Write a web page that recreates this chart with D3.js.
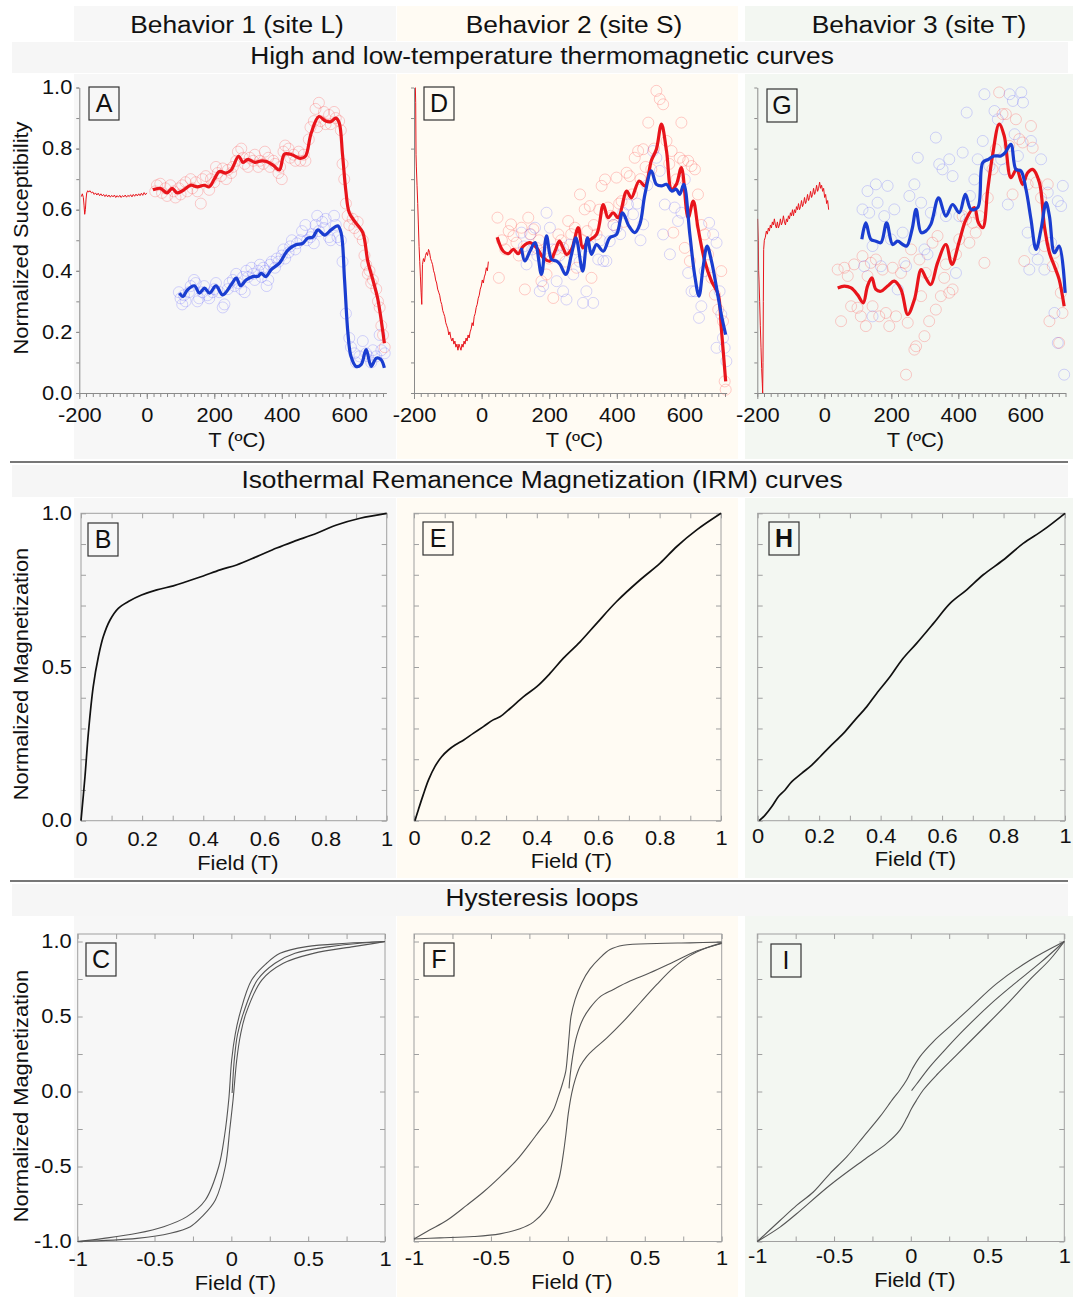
<!DOCTYPE html>
<html>
<head>
<meta charset="utf-8">
<script src="https://cdn.jsdelivr.net/npm/d3@7"></script>
<style>
  body { margin: 0; background: #fff; }
  svg { display: block; font-family: "Liberation Sans", Arial, sans-serif; }
</style>
</head>
<body>
<svg id="fig" width="1073" height="1297"></svg>
<script>
// ---------------- text ----------------
const columnTitles = ["Behavior 1 (site L)", "Behavior 2 (site S)", "Behavior 3 (site T)"];
const sectionTitles = [
  "High and low-temperature thermomagnetic curves",
  "Isothermal Remanence Magnetization (IRM) curves",
  "Hysteresis loops"
];
const thermoTicks = [-200, 0, 200, 400, 600];
const suscTicks = [0, 0.2, 0.4, 0.6, 0.8, 1.0];
const irmFieldTicks = [0, 0.2, 0.4, 0.6, 0.8, 1];
const irmMagTicks = [0, 0.5, 1.0];
const loopFieldTicks = [-1, -0.5, 0, 0.5, 1];
const loopMagTicks = [-1, -0.5, 0, 0.5, 1];

// ---------------- thermomagnetic data: [T (ºC), normalized susceptibility] ----------------
// site L
const lowA = [[-194,0.643],[-191,0.652],[-188,0.640],[-186,0.615],[-184,0.585],[-182,0.600],[-180,0.635],[-178,0.655],[-175,0.662],[-172,0.658],[-168,0.662],[-164,0.655],[-160,0.658],[-156,0.650],[-152,0.655],[-148,0.648],[-144,0.654],[-140,0.646],[-136,0.652],[-132,0.645],[-128,0.650],[-124,0.643],[-120,0.649],[-116,0.642],[-112,0.648],[-108,0.641],[-104,0.647],[-100,0.642],[-96,0.648],[-92,0.640],[-88,0.646],[-84,0.641],[-80,0.647],[-76,0.640],[-72,0.646],[-68,0.642],[-64,0.648],[-60,0.641],[-56,0.647],[-52,0.643],[-48,0.649],[-44,0.642],[-40,0.650],[-36,0.644],[-32,0.651],[-28,0.645],[-24,0.652],[-20,0.646],[-16,0.654],[-12,0.647],[-8,0.656],[-4,0.649],[0,0.655]];
const heatA = [[18,0.665],[40,0.670],[60,0.655],[75,0.670],[90,0.655],[110,0.665],[130,0.680],[150,0.675],[170,0.680],[185,0.675],[200,0.700],[215,0.725],[235,0.720],[250,0.730],[272,0.775],[285,0.755],[300,0.765],[320,0.755],[340,0.760],[355,0.758],[375,0.745],[393,0.730],[408,0.782],[430,0.780],[455,0.768],[470,0.775],[487,0.850],[510,0.905],[530,0.890],[545,0.888],[560,0.900],[570,0.885],[580,0.780],[590,0.660],[600,0.590],[620,0.556],[640,0.525],[655,0.430],[670,0.370],[684,0.310],[704,0.163]];
const coolA = [[97,0.327],[107,0.316],[121,0.338],[141,0.351],[156,0.327],[171,0.343],[186,0.327],[205,0.351],[225,0.321],[250,0.354],[265,0.376],[278,0.351],[294,0.370],[314,0.381],[330,0.382],[339,0.392],[353,0.381],[368,0.403],[393,0.425],[418,0.468],[442,0.485],[462,0.490],[477,0.507],[492,0.510],[507,0.534],[527,0.517],[546,0.534],[566,0.547],[576,0.523],[586,0.370],[596,0.196],[605,0.120],[620,0.087],[635,0.093],[650,0.142],[665,0.087],[680,0.114],[694,0.109],[704,0.082]];
const heatPtsA = [[25,0.66],[30,0.68],[40,0.685],[45,0.655],[55,0.67],[60,0.645],[70,0.68],[80,0.66],[85,0.64],[95,0.67],[100,0.65],[105,0.68],[115,0.69],[120,0.66],[130,0.70],[135,0.67],[145,0.69],[150,0.66],[160,0.62],[165,0.70],[175,0.71],[185,0.665],[190,0.70],[200,0.69],[205,0.74],[210,0.72],[220,0.71],[225,0.735],[235,0.70],[240,0.73],[250,0.72],[255,0.74],[265,0.76],[270,0.79],[280,0.80],[285,0.77],[290,0.75],[300,0.74],[305,0.77],[315,0.76],[320,0.78],[330,0.74],[335,0.76],[345,0.75],[350,0.79],[360,0.77],[365,0.74],[375,0.76],[380,0.75],[390,0.72],[395,0.74],[400,0.70],[405,0.79],[410,0.81],[420,0.80],[425,0.77],[435,0.78],[440,0.76],[450,0.79],[455,0.76],[465,0.78],[470,0.76],[480,0.83],[485,0.87],[495,0.89],[500,0.93],[505,0.87],[510,0.95],[515,0.89],[525,0.92],[530,0.88],[540,0.91],[545,0.88],[555,0.92],[560,0.90],[570,0.89],[575,0.86],[580,0.75],[585,0.70],[590,0.62],[595,0.58],[600,0.55],[610,0.57],[615,0.54],[625,0.56],[630,0.52],[640,0.50],[645,0.45],[650,0.42],[655,0.39],[660,0.40],[665,0.36],[670,0.37],[680,0.34],[685,0.30],[690,0.28],[695,0.22],[700,0.19],[705,0.15]];
const coolPtsA = [[95,0.33],[100,0.31],[105,0.29],[110,0.32],[115,0.30],[125,0.33],[130,0.35],[140,0.37],[145,0.36],[150,0.30],[155,0.31],[165,0.33],[170,0.35],[180,0.32],[185,0.31],[195,0.33],[200,0.34],[205,0.36],[215,0.33],[225,0.28],[230,0.29],[240,0.34],[245,0.36],[255,0.37],[260,0.35],[265,0.39],[270,0.36],[280,0.34],[285,0.38],[290,0.33],[295,0.40],[300,0.38],[310,0.41],[315,0.39],[320,0.37],[330,0.40],[335,0.42],[340,0.38],[345,0.41],[350,0.40],[355,0.35],[360,0.37],[365,0.42],[370,0.43],[380,0.41],[385,0.44],[390,0.43],[400,0.45],[405,0.47],[410,0.44],[420,0.46],[425,0.48],[430,0.50],[440,0.47],[445,0.49],[455,0.50],[460,0.53],[470,0.55],[475,0.50],[485,0.51],[490,0.52],[495,0.49],[500,0.55],[505,0.58],[510,0.53],[520,0.56],[525,0.54],[530,0.57],[540,0.51],[545,0.50],[555,0.58],[560,0.55],[565,0.51],[575,0.50],[580,0.43],[590,0.26],[600,0.18],[605,0.15],[615,0.13],[620,0.10],[630,0.12],[640,0.17],[650,0.13],[655,0.12],[665,0.10],[670,0.14],[680,0.12],[690,0.19],[695,0.14],[705,0.13]];

// site S
const lowD = [[-196,1.00],[-195,0.95],[-194,0.78],[-193,0.74],[-191,0.68],[-189,0.62],[-187,0.55],[-185,0.48],[-183,0.43],[-181,0.38],[-179,0.33],[-177,0.29],[-175,0.42],[-172,0.44],[-169,0.43],[-166,0.45],[-163,0.46],[-160,0.45],[-157,0.47],[-154,0.46],[-151,0.44],[-148,0.43],[-145,0.42],[-142,0.40],[-139,0.39],[-136,0.37],[-133,0.36],[-130,0.34],[-127,0.33],[-124,0.32],[-121,0.30],[-118,0.29],[-115,0.27],[-112,0.26],[-109,0.25],[-106,0.23],[-103,0.22],[-100,0.21],[-97,0.19],[-94,0.20],[-91,0.18],[-88,0.17],[-85,0.18],[-82,0.16],[-79,0.17],[-76,0.15],[-73,0.16],[-70,0.14],[-67,0.16],[-64,0.15],[-61,0.14],[-58,0.16],[-55,0.15],[-52,0.17],[-49,0.16],[-46,0.18],[-43,0.17],[-40,0.19],[-37,0.18],[-34,0.20],[-31,0.21],[-28,0.23],[-25,0.22],[-22,0.25],[-19,0.26],[-16,0.28],[-13,0.29],[-10,0.31],[-7,0.32],[-4,0.34],[-1,0.35],[2,0.37],[5,0.36],[8,0.38],[11,0.39],[14,0.41],[17,0.40],[20,0.43]];
const heatD = [[46,0.510],[64,0.464],[79,0.456],[94,0.470],[108,0.456],[123,0.480],[143,0.492],[163,0.475],[182,0.443],[202,0.432],[217,0.464],[230,0.497],[241,0.475],[251,0.454],[266,0.470],[286,0.541],[299,0.475],[315,0.497],[340,0.519],[360,0.617],[374,0.574],[389,0.590],[404,0.574],[429,0.661],[443,0.639],[466,0.694],[483,0.678],[502,0.760],[517,0.798],[532,0.880],[547,0.792],[562,0.667],[576,0.683],[591,0.738],[611,0.574],[626,0.628],[640,0.541],[660,0.432],[680,0.366],[700,0.322],[709,0.213],[722,0.038]];
const coolD = [[118,0.475],[128,0.432],[143,0.464],[158,0.492],[177,0.388],[192,0.514],[207,0.437],[222,0.432],[232,0.421],[249,0.388],[266,0.454],[279,0.508],[299,0.399],[313,0.508],[325,0.454],[340,0.486],[360,0.464],[379,0.508],[399,0.519],[417,0.590],[436,0.546],[453,0.525],[468,0.552],[483,0.650],[502,0.727],[517,0.683],[532,0.678],[547,0.683],[562,0.661],[576,0.667],[586,0.650],[598,0.683],[616,0.519],[630,0.388],[643,0.317],[655,0.410],[667,0.481],[680,0.432],[695,0.344],[709,0.257],[722,0.191]];
const heatPtsD = [[47,0.574],[51,0.377],[60,0.50],[70,0.47],[80,0.53],[87,0.552],[94,0.514],[103,0.492],[110,0.45],[118,0.541],[128,0.339],[138,0.574],[145,0.52],[153,0.536],[163,0.475],[170,0.50],[177,0.366],[185,0.46],[192,0.388],[200,0.44],[212,0.311],[220,0.47],[227,0.519],[235,0.50],[241,0.475],[248,0.43],[256,0.563],[265,0.52],[276,0.541],[281,0.41],[291,0.65],[298,0.50],[305,0.601],[312,0.53],[320,0.612],[325,0.377],[332,0.55],[340,0.519],[348,0.60],[355,0.678],[365,0.699],[374,0.607],[382,0.58],[390,0.55],[399,0.705],[407,0.62],[414,0.628],[420,0.56],[429,0.721],[438,0.71],[445,0.65],[453,0.77],[463,0.792],[470,0.70],[478,0.798],[485,0.74],[493,0.885],[502,0.732],[510,0.80],[517,0.989],[527,0.962],[537,0.945],[547,0.825],[555,0.75],[562,0.792],[567,0.525],[576,0.699],[586,0.77],[591,0.885],[596,0.76],[601,0.475],[611,0.76],[616,0.432],[621,0.743],[631,0.732],[640,0.65],[650,0.55],[660,0.519],[670,0.454],[680,0.377],[690,0.322],[700,0.273],[709,0.399],[714,0.235],[719,0.038],[722,0.011]];
const coolPtsD = [[118,0.525],[125,0.48],[133,0.421],[143,0.519],[150,0.47],[158,0.541],[165,0.45],[172,0.333],[182,0.35],[192,0.59],[202,0.541],[210,0.47],[222,0.366],[230,0.45],[241,0.333],[251,0.306],[261,0.486],[271,0.388],[280,0.47],[290,0.43],[300,0.295],[310,0.333],[320,0.48],[330,0.295],[345,0.437],[352,0.50],[360,0.432],[369,0.432],[379,0.497],[390,0.55],[399,0.541],[410,0.52],[419,0.59],[433,0.617],[448,0.585],[460,0.62],[470,0.50],[478,0.552],[490,0.68],[507,0.792],[517,0.77],[527,0.727],[537,0.519],[542,0.617],[557,0.454],[571,0.607],[581,0.563],[591,0.59],[601,0.699],[611,0.393],[621,0.333],[631,0.333],[643,0.246],[650,0.284],[660,0.399],[673,0.557],[685,0.519],[695,0.492],[695,0.148],[704,0.333],[709,0.257],[714,0.18],[719,0.148],[724,0.104]];

// site T
const lowG = [[-199,0.57],[-197,0.50],[-196,0.40],[-195,0.37],[-193,0.30],[-191,0.22],[-189,0.15],[-187,0.08],[-185,0.03],[-184,0.00],[-183,0.10],[-182,0.30],[-181,0.47],[-179,0.50],[-176,0.51],[-173,0.53],[-170,0.52],[-167,0.54],[-164,0.53],[-161,0.55],[-158,0.54],[-155,0.56],[-152,0.55],[-149,0.57],[-146,0.55],[-143,0.54],[-140,0.56],[-137,0.54],[-134,0.55],[-131,0.57],[-128,0.55],[-125,0.56],[-122,0.58],[-119,0.56],[-116,0.55],[-113,0.57],[-110,0.56],[-107,0.58],[-104,0.57],[-101,0.59],[-98,0.58],[-95,0.60],[-92,0.58],[-89,0.60],[-86,0.59],[-83,0.61],[-80,0.60],[-77,0.62],[-74,0.60],[-71,0.61],[-68,0.63],[-65,0.61],[-62,0.62],[-59,0.64],[-56,0.62],[-53,0.63],[-50,0.65],[-47,0.63],[-44,0.64],[-41,0.66],[-38,0.64],[-35,0.65],[-32,0.67],[-29,0.65],[-26,0.66],[-23,0.68],[-20,0.66],[-17,0.67],[-14,0.69],[-11,0.67],[-8,0.68],[-5,0.66],[-2,0.67],[1,0.64],[4,0.65],[7,0.62],[10,0.63],[13,0.60]];
const heatG = [[40,0.344],[60,0.350],[80,0.344],[99,0.322],[116,0.295],[129,0.350],[142,0.377],[154,0.339],[169,0.333],[189,0.350],[209,0.366],[229,0.339],[249,0.257],[269,0.306],[289,0.404],[303,0.377],[318,0.355],[338,0.426],[363,0.486],[381,0.421],[403,0.497],[423,0.568],[448,0.607],[460,0.557],[473,0.541],[488,0.667],[502,0.776],[522,0.880],[537,0.842],[557,0.705],[574,0.732],[592,0.683],[607,0.721],[622,0.732],[642,0.689],[657,0.546],[672,0.459],[687,0.415],[701,0.372],[716,0.284]];
const coolG = [[112,0.503],[124,0.557],[139,0.503],[154,0.497],[169,0.492],[186,0.557],[204,0.486],[219,0.497],[234,0.486],[246,0.481],[262,0.536],[274,0.601],[289,0.525],[303,0.530],[318,0.552],[341,0.639],[363,0.579],[383,0.617],[403,0.590],[421,0.650],[438,0.601],[458,0.607],[473,0.754],[490,0.765],[507,0.776],[527,0.776],[540,0.787],[557,0.814],[572,0.732],[587,0.727],[602,0.667],[617,0.568],[632,0.470],[647,0.536],[662,0.623],[672,0.579],[687,0.459],[701,0.481],[719,0.328]];
const heatPtsG = [[40,0.404],[50,0.235],[60,0.41],[70,0.383],[80,0.284],[89,0.421],[99,0.279],[109,0.251],[114,0.448],[124,0.219],[129,0.383],[139,0.426],[144,0.284],[154,0.437],[164,0.251],[174,0.404],[184,0.262],[194,0.219],[204,0.41],[214,0.251],[229,0.393],[239,0.426],[244,0.06],[249,0.23],[259,0.47],[269,0.142],[274,0.153],[284,0.437],[289,0.317],[299,0.186],[303,0.393],[313,0.235],[323,0.492],[333,0.273],[338,0.514],[348,0.317],[358,0.377],[363,0.421],[373,0.328],[383,0.339],[393,0.454],[403,0.503],[413,0.579],[423,0.568],[433,0.492],[443,0.557],[452,0.525],[463,0.579],[478,0.426],[488,0.639],[502,0.732],[512,0.798],[522,0.984],[532,0.913],[542,0.913],[552,0.809],[562,0.65],[572,0.896],[582,0.831],[592,0.82],[597,0.432],[607,0.683],[617,0.874],[622,0.803],[632,0.689],[647,0.639],[657,0.481],[667,0.683],[672,0.235],[682,0.415],[687,0.459],[701,0.164],[706,0.328],[711,0.262]];
const coolPtsG = [[114,0.601],[119,0.415],[129,0.661],[134,0.59],[144,0.481],[144,0.251],[154,0.683],[159,0.623],[169,0.415],[179,0.579],[189,0.678],[199,0.503],[209,0.601],[219,0.339],[234,0.525],[244,0.415],[254,0.645],[269,0.683],[279,0.77],[289,0.623],[299,0.47],[308,0.454],[318,0.59],[333,0.836],[343,0.749],[353,0.732],[363,0.579],[373,0.765],[383,0.71],[393,0.393],[403,0.579],[413,0.787],[425,0.918],[435,0.645],[448,0.699],[458,0.765],[473,0.825],[478,0.978],[493,0.743],[508,0.923],[518,0.896],[528,0.765],[538,0.732],[548,0.617],[553,0.978],[563,0.956],[568,0.847],[578,0.776],[588,0.984],[593,0.951],[607,0.525],[612,0.404],[617,0.825],[627,0.47],[637,0.437],[647,0.765],[657,0.404],[667,0.656],[677,0.492],[687,0.262],[697,0.628],[697,0.164],[707,0.612],[712,0.678],[716,0.06]];

// ---------------- IRM acquisition: [field (T), normalized magnetization] ----------------
const irmB = [[0,0],[0.013,0.143],[0.024,0.284],[0.040,0.436],[0.057,0.534],[0.073,0.599],[0.095,0.653],[0.122,0.691],[0.155,0.713],[0.198,0.734],[0.248,0.751],[0.302,0.764],[0.346,0.778],[0.400,0.796],[0.455,0.816],[0.509,0.832],[0.575,0.859],[0.640,0.887],[0.695,0.908],[0.771,0.935],[0.836,0.962],[0.913,0.984],[1.0,1.0]];
const irmE = [[0.003,0],[0.014,0.035],[0.030,0.084],[0.047,0.132],[0.068,0.176],[0.090,0.208],[0.112,0.230],[0.134,0.246],[0.161,0.262],[0.193,0.284],[0.226,0.306],[0.258,0.328],[0.280,0.338],[0.313,0.365],[0.356,0.403],[0.400,0.436],[0.443,0.479],[0.486,0.528],[0.541,0.582],[0.595,0.642],[0.660,0.713],[0.736,0.783],[0.801,0.837],[0.856,0.892],[0.921,0.946],[1.0,1.0]];
const irmH = [[0.005,0],[0.024,0.018],[0.046,0.046],[0.067,0.078],[0.089,0.100],[0.111,0.127],[0.143,0.154],[0.176,0.181],[0.203,0.208],[0.235,0.241],[0.279,0.284],[0.317,0.328],[0.355,0.371],[0.387,0.414],[0.431,0.469],[0.469,0.523],[0.517,0.577],[0.572,0.642],[0.626,0.707],[0.680,0.751],[0.734,0.800],[0.799,0.848],[0.864,0.902],[0.930,0.946],[1.0,1.0]];

// ---------------- hysteresis loops: [field (T), normalized magnetization] ----------------
const descC = [[1,1],[0.75,0.988],[0.49,0.966],[0.317,0.921],[0.23,0.855],[0.132,0.743],[0.056,0.521],[0.025,0.38],[0.002,0.21],[-0.017,-0.057],[-0.045,-0.3],[-0.082,-0.5],[-0.169,-0.723],[-0.289,-0.834],[-0.44,-0.901],[-0.614,-0.945],[-0.83,-0.979],[-1,-1]];
const ascC = [[-1,-1],[-0.614,-0.979],[-0.397,-0.945],[-0.267,-0.901],[-0.191,-0.834],[-0.104,-0.723],[-0.039,-0.5],[-0.01,-0.25],[0.011,-0.057],[0.035,0.21],[0.06,0.38],[0.095,0.521],[0.198,0.743],[0.338,0.855],[0.534,0.921],[0.794,0.966],[0.92,0.986],[1,1]];
const initC = [[0.005,-0.01],[0.01,0.08],[0.019,0.21],[0.04,0.38],[0.078,0.521],[0.169,0.743],[0.284,0.855],[0.414,0.921],[0.642,0.966],[0.85,0.99],[1,1]];
const descF = [[1.0,0.996],[0.794,0.991],[0.577,0.987],[0.361,0.975],[0.274,0.946],[0.209,0.891],[0.144,0.817],[0.09,0.724],[0.047,0.613],[0.021,0.502],[0.008,0.368],[-0.003,0.234],[-0.014,0.133],[-0.034,0.055],[-0.062,-0.034],[-0.094,-0.124],[-0.138,-0.202],[-0.181,-0.257],[-0.246,-0.346],[-0.333,-0.458],[-0.441,-0.569],[-0.549,-0.67],[-0.658,-0.759],[-0.788,-0.86],[-0.896,-0.922],[-1,-0.983]];
const ascF = [[-1,-0.983],[-0.831,-0.976],[-0.614,-0.967],[-0.441,-0.949],[-0.311,-0.915],[-0.224,-0.871],[-0.148,-0.793],[-0.094,-0.692],[-0.055,-0.57],[-0.029,-0.413],[-0.012,-0.28],[0.003,-0.146],[0.025,-0.012],[0.047,0.077],[0.079,0.166],[0.122,0.233],[0.177,0.289],[0.252,0.356],[0.361,0.467],[0.469,0.59],[0.577,0.712],[0.686,0.824],[0.794,0.906],[0.902,0.958],[1.0,0.991]];
const initF = [[0.008,0.021],[0.014,0.099],[0.031,0.233],[0.057,0.367],[0.096,0.479],[0.144,0.557],[0.209,0.631],[0.296,0.68],[0.404,0.736],[0.534,0.791],[0.686,0.863],[0.837,0.936],[1.0,0.987]];
const descI = [[1,1],[0.776,0.875],[0.559,0.719],[0.385,0.556],[0.255,0.434],[0.147,0.333],[0.06,0.233],[0.012,0.155],[-0.027,0.077],[-0.071,0.01],[-0.114,-0.046],[-0.201,-0.168],[-0.309,-0.302],[-0.418,-0.436],[-0.527,-0.547],[-0.635,-0.67],[-0.744,-0.759],[-0.852,-0.86],[-1,-1]];
const ascI = [[-1,-1],[-0.852,-0.904],[-0.744,-0.815],[-0.527,-0.625],[-0.309,-0.458],[-0.157,-0.346],[-0.071,-0.257],[-0.027,-0.179],[0.005,-0.113],[0.038,-0.057],[0.081,0.01],[0.168,0.11],[0.299,0.244],[0.451,0.4],[0.624,0.579],[0.776,0.746],[0.907,0.88],[1,1]];
const initI = [[0.005,0.006],[0.038,0.05],[0.125,0.166],[0.233,0.289],[0.342,0.407],[0.516,0.579],[0.668,0.712],[0.842,0.857],[1,1]];

// ---------------- layout & style ----------------
const svg = d3.select("#fig");
const colBg = ["#f7f7f7", "#fffbf3", "#f3f7f2"];
const bandBg = "#f6f6f6";
const colSpan = [[74, 396], [397, 738], [745, 1073]];
const rowSpan = [[74, 459], [498, 878], [916, 1297]];
const bandSpan = [[42, 73], [465, 497], [884, 916]];
const RED = "#e8141b", BLUE = "#1a3dd0";
const AXIS_GREY = "#8a8a8a", FRAME_GREY = "#a0a0a0";
const TICK_FONT = 19.5;
const TEXT_STRETCH = 1.12;   // slightly wide lettering

columnTitles.forEach((t, i) => {
  svg.append("rect").attr("x", colSpan[i][0]).attr("y", 6)
    .attr("width", colSpan[i][1] - colSpan[i][0]).attr("height", 35).attr("fill", colBg[i]);
});
rowSpan.forEach(r => colSpan.forEach((c, i) => {
  svg.append("rect").attr("x", c[0]).attr("y", r[0]).attr("width", c[1] - c[0])
    .attr("height", r[1] - r[0]).attr("fill", colBg[i]);
}));
bandSpan.forEach(b => svg.append("rect").attr("x", 12).attr("y", b[0])
  .attr("width", 1056).attr("height", b[1] - b[0]).attr("fill", bandBg));
[462, 881].forEach(yy => svg.append("line").attr("x1", 10).attr("x2", 1068)
  .attr("y1", yy).attr("y2", yy).attr("stroke", "#4a4a4a").attr("stroke-width", 1.6));

const colCenters = [237, 574, 919];
columnTitles.forEach((t, i) => svg.append("text").attr("x", colCenters[i]).attr("y", 33)
  .attr("text-anchor", "middle").attr("font-size", 23.5).attr("fill", "#111").text(t));
const sectionY = [64, 488, 906];
sectionTitles.forEach((t, i) => svg.append("text").attr("x", 542).attr("y", sectionY[i])
  .attr("text-anchor", "middle").attr("font-size", 23.5).attr("fill", "#111").text(t));

function yTitle(text, cx, cy) {
  svg.append("text").attr("transform", `translate(${cx},${cy}) rotate(-90)`)
    .attr("text-anchor", "middle").attr("font-size", 19.5).attr("fill", "#111").text(text);
}
function xTitle(text, cx, baseline) {
  svg.append("text").attr("x", cx).attr("y", baseline).attr("text-anchor", "middle")
    .attr("font-size", 19.5).attr("fill", "#111").text(text);
}
function letterBox(letter, x, y, bold) {
  svg.append("rect").attr("x", x).attr("y", y).attr("width", 30).attr("height", 33)
    .attr("fill", "none").attr("stroke", "#333").attr("stroke-width", 1.2);
  svg.append("text").attr("class", "letter").attr("x", x + 15).attr("y", y + 25).attr("text-anchor", "middle")
    .attr("font-size", 25).attr("font-weight", bold ? "bold" : "normal").attr("fill", "#111").text(letter);
}
function styleAxis(sel, color) {
  sel.selectAll("path.domain").attr("stroke", color);
  sel.selectAll(".tick line").attr("stroke", color);
  sel.selectAll(".tick text").attr("fill", "#111").attr("font-size", TICK_FONT)
    .attr("font-family", '"Liberation Sans", Arial, sans-serif');
}

// ---------------- thermomagnetic panels ----------------
function thermoPanel(c) {
  const x = d3.scaleLinear().domain(c.dom).range(c.px);
  const y = d3.scaleLinear().domain([0, 1]).range([393, 87.5]);
  const g = svg.append("g");

  const circles = (pts, color) => g.append("g").selectAll("circle").data(pts).join("circle")
    .attr("cx", d => x(d[0])).attr("cy", d => y(d[1])).attr("r", 5.5)
    .attr("fill", "none").attr("stroke", color).attr("stroke-width", 1);
  circles(c.heatPts, "rgba(255,70,70,0.27)");
  circles(c.coolPts, "rgba(70,70,255,0.22)");

  const thin = d3.line().x(d => x(d[0])).y(d => y(d[1]));
  g.append("path").datum(c.low).attr("d", thin).attr("fill", "none")
    .attr("stroke", RED).attr("stroke-width", 1);

  const smooth = d3.line().curve(d3.curveCatmullRom.alpha(0.5)).x(d => x(d[0])).y(d => y(d[1]));
  g.append("path").datum(c.heat).attr("d", smooth).attr("fill", "none")
    .attr("stroke", RED).attr("stroke-width", 3.2).attr("stroke-linejoin", "round");
  g.append("path").datum(c.cool).attr("d", smooth).attr("fill", "none")
    .attr("stroke", BLUE).attr("stroke-width", 3.2).attr("stroke-linejoin", "round");

  const minorX = d3.range(-200, c.dom[1] + 0.1, 20);
  const ax1 = g.append("g").attr("transform", `translate(0,${y(0)})`)
    .call(d3.axisBottom(x).tickValues(minorX).tickSize(4).tickSizeOuter(0).tickFormat(""));
  styleAxis(ax1, AXIS_GREY);
  const ax2 = g.append("g").attr("transform", `translate(0,${y(0)})`)
    .call(d3.axisBottom(x).tickValues(thermoTicks).tickSize(6).tickSizeOuter(0).tickPadding(9).tickFormat(d => String(d)));
  styleAxis(ax2, AXIS_GREY);
  ax2.select("path.domain").remove();

  const ay1 = g.append("g").attr("transform", `translate(${c.px[0]},0)`)
    .call(d3.axisLeft(y).tickValues(d3.range(0, 1.001, 0.1)).tickSize(3).tickSizeOuter(0).tickFormat(""));
  styleAxis(ay1, AXIS_GREY);
  if (c.yLabels) {
    const ay2 = g.append("g").attr("transform", `translate(${c.px[0]},0)`)
      .call(d3.axisLeft(y).tickValues(suscTicks).tickSize(3).tickPadding(4).tickFormat(d => d.toFixed(1)));
    styleAxis(ay2, AXIS_GREY);
    ay2.select("path.domain").remove();
  }
  xTitle("T (ºC)", (c.px[0] + c.px[1]) / 2 + 4, 447);
  letterBox(c.letter, c.box[0], c.box[1]);
}

thermoPanel({ letter: "A", box: [89, 87], dom: [-200, 710], px: [79.3, 386.4], yLabels: true,
  low: lowA, heat: heatA, cool: coolA, heatPts: heatPtsA, coolPts: coolPtsA });
thermoPanel({ letter: "D", box: [424, 87], dom: [-200, 725], px: [414, 726.7], yLabels: false,
  low: lowD, heat: heatD, cool: coolD, heatPts: heatPtsD, coolPts: coolPtsD });
thermoPanel({ letter: "G", box: [767, 89], dom: [-200, 720], px: [757.3, 1065.5], yLabels: false,
  low: lowG, heat: heatG, cool: coolG, heatPts: heatPtsG, coolPts: coolPtsG });
yTitle("Normalized Suceptibility", 28, 238);

// ---------------- framed panels (IRM and hysteresis) ----------------
function framedPanel(c) {
  const x = d3.scaleLinear().domain(c.xDom).range(c.px);
  const y = d3.scaleLinear().domain(c.yDom).range([c.py[1], c.py[0]]);
  const g = svg.append("g");
  g.append("rect").attr("x", c.px[0]).attr("y", c.py[0]).attr("width", c.px[1] - c.px[0])
    .attr("height", c.py[1] - c.py[0]).attr("fill", "none").attr("stroke", FRAME_GREY).attr("stroke-width", 1);

  const xt = d3.range(c.xDom[0], c.xDom[1] + 1e-9, c.xStep);
  const yt = d3.range(c.yTickStart, c.yDom[1] + 1e-9, c.yStep);
  const inner = (sel) => { sel.select("path.domain").remove(); styleAxis(sel, FRAME_GREY); };
  g.append("g").attr("transform", `translate(0,${c.py[0]})`)
    .call(d3.axisTop(x).tickValues(xt).tickSize(-5).tickFormat("")).call(inner);
  g.append("g").attr("transform", `translate(${c.px[1]},0)`)
    .call(d3.axisRight(y).tickValues(yt).tickSize(-5).tickFormat("")).call(inner);
  g.append("g").attr("transform", `translate(0,${c.py[1]})`)
    .call(d3.axisBottom(x).tickValues(xt).tickSize(-5).tickFormat("")).call(inner);
  g.append("g").attr("transform", `translate(${c.px[0]},0)`)
    .call(d3.axisLeft(y).tickValues(yt).tickSize(-5).tickFormat("")).call(inner);
  g.append("g").attr("transform", `translate(0,${c.py[1]})`)
    .call(d3.axisBottom(x).tickValues(c.xLabels).tickSize(0).tickPadding(c.xPad).tickFormat(d => String(d))).call(inner);
  if (c.yLabels) {
    g.append("g").attr("transform", `translate(${c.px[0]},0)`)
      .call(d3.axisLeft(y).tickValues(c.yLabels).tickSize(0).tickPadding(c.yPad).tickFormat(d => d.toFixed(1))).call(inner);
  }

  const ln = d3.line().curve(d3.curveCatmullRom.alpha(0.5)).x(d => x(d[0])).y(d => y(d[1]));
  c.curves.forEach(cv => g.append("path").datum(cv).attr("d", ln).attr("fill", "none")
    .attr("stroke", c.stroke).attr("stroke-width", c.width));
  xTitle("Field (T)", (c.px[0] + c.px[1]) / 2 + 4, c.titleY);
  letterBox(c.letter, c.box[0], c.box[1], c.bold);
}

const irmBase = { xDom: [0, 1], yDom: [0, 1], xStep: 0.1, yStep: 0.1, yTickStart: 0,
  py: [513.3, 820.7], xLabels: irmFieldTicks, xPad: 11.5, yPad: 9, stroke: "#111", width: 1.7, titleY: 870 };
framedPanel({ ...irmBase, letter: "B", box: [88, 523], px: [81, 386.7], yLabels: irmMagTicks, curves: [irmB] });
framedPanel({ ...irmBase, letter: "E", box: [423, 522], px: [414, 721], curves: [irmE], xPad: 10.5, titleY: 868 });
framedPanel({ ...irmBase, letter: "H", box: [769, 522], px: [757.7, 1065], curves: [irmH], bold: true, xPad: 8.5, titleY: 866 });
yTitle("Normalized Magnetization", 28, 674);

const loopBase = { xDom: [-1, 1], yDom: [-1, 1.05], xStep: 0.25, yStep: 0.25, yTickStart: -1,
  py: [934, 1241.5], xLabels: loopFieldTicks, xPad: 10.7, yPad: 6, stroke: "#555", width: 1.1, titleY: 1290 };
framedPanel({ ...loopBase, letter: "C", box: [86, 943], px: [77.7, 385], yLabels: loopMagTicks, curves: [descC, ascC, initC] });
framedPanel({ ...loopBase, letter: "F", box: [424, 943], px: [414, 721.7], curves: [descF, ascF, initF], xPad: 9.7, titleY: 1289 });
framedPanel({ ...loopBase, letter: "I", box: [771, 944], px: [757.3, 1064.3], curves: [descI, ascI, initI], xPad: 8, titleY: 1287 });
yTitle("Normalized Magnetization", 28, 1096);

// widen the lettering of all labels a little
svg.selectAll("text").filter(function () { return !this.classList.contains("letter"); })
  .each(function () {
    const len = this.getComputedTextLength();
    if (len > 0) d3.select(this).attr("textLength", len * TEXT_STRETCH).attr("lengthAdjust", "spacingAndGlyphs");
  });
</script>
</body>
</html>
